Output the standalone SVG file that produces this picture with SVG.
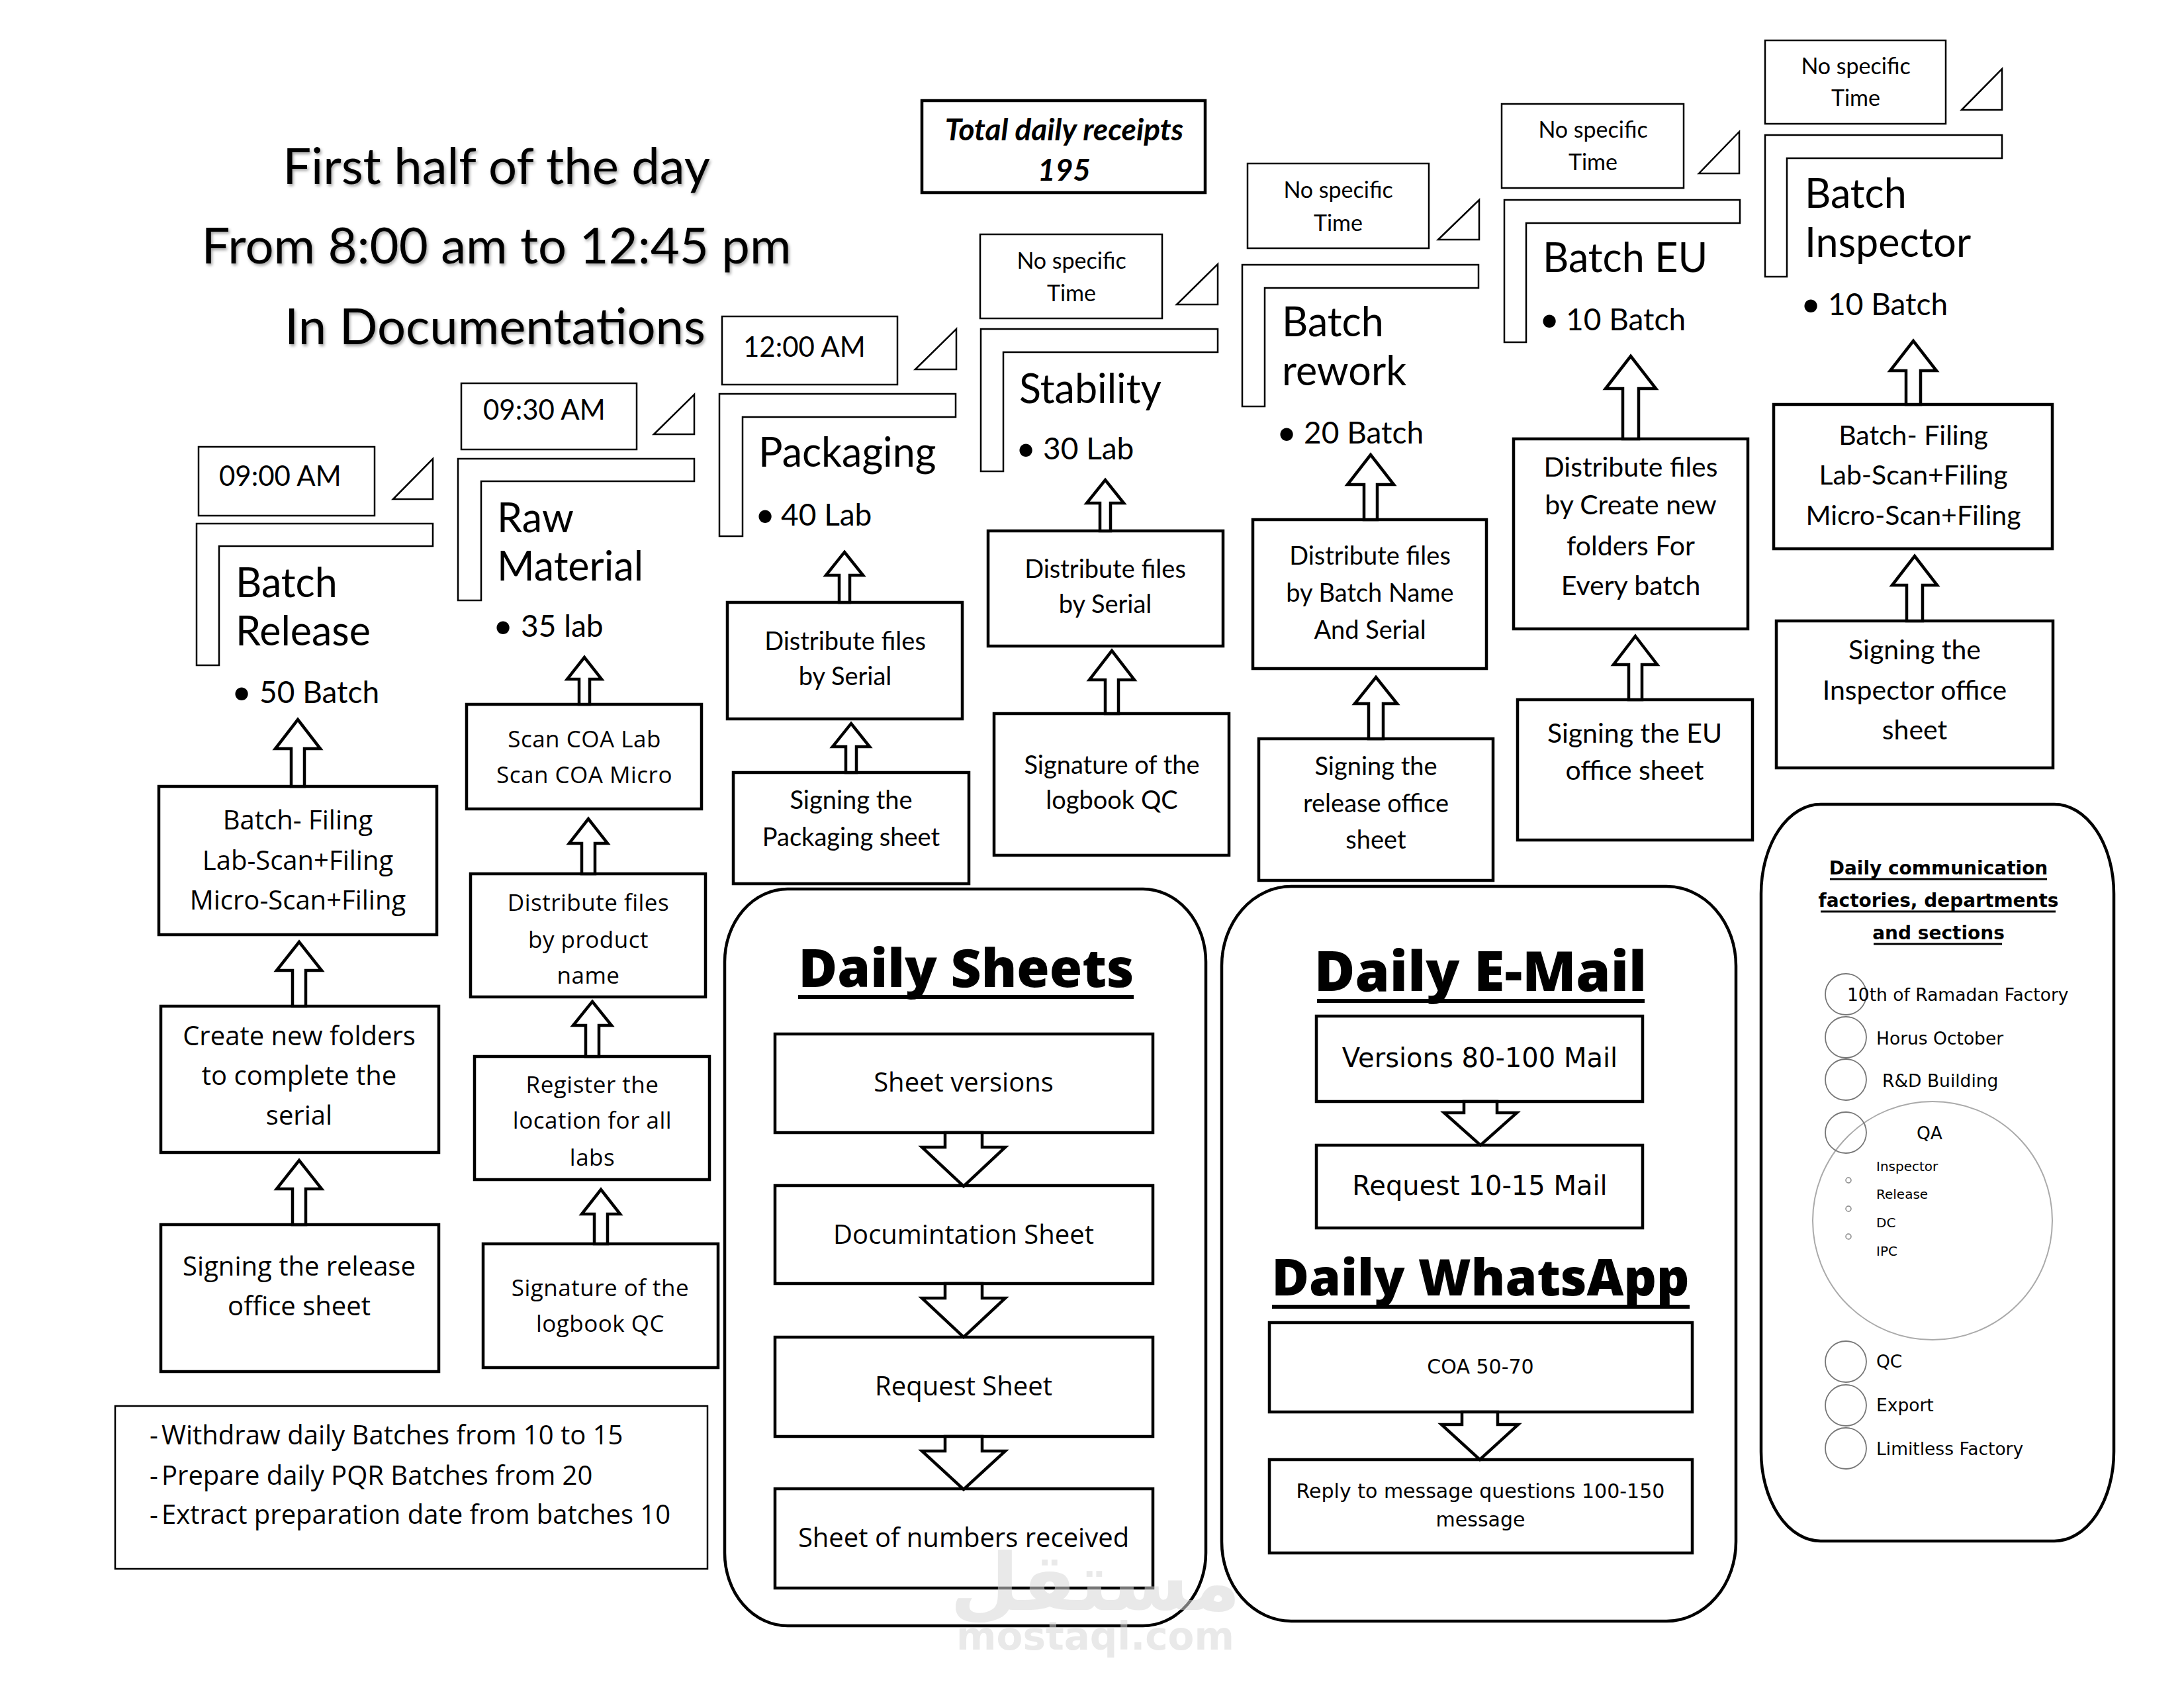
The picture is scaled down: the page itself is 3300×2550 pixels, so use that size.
<svg xmlns="http://www.w3.org/2000/svg" width="3300" height="2550" viewBox="0 0 3300 2550">
<style>
.bg{fill:#fff}
.thin{fill:#fff;stroke:#000;stroke-width:2.5}
.box{fill:#fff;stroke:#000;stroke-width:4.5}
.cont{fill:#fff;stroke:#000;stroke-width:4.5}
.arr{fill:#fff;stroke:#000;stroke-width:4.5;stroke-linejoin:miter}
.cal{font-family:Lato,"Liberation Sans",sans-serif;fill:#000}
.os{font-family:"Open Sans","Noto Sans",sans-serif;fill:#000}
.dv{font-family:"DejaVu Sans",Verdana,sans-serif;fill:#000}
.title{font-size:76px;text-anchor:middle}
.head{font-size:61px}
.bul{font-size:46px}
.dot{font-size:52px;text-anchor:middle}
.time{font-size:42px}
.ns{font-size:34px;text-anchor:middle}
.bt{font-size:38px;text-anchor:middle}
.btl{font-size:41px;text-anchor:middle}
.ob{font-size:40px;text-anchor:middle}
.ob2{font-size:35px;text-anchor:middle;letter-spacing:0.5px}
.big{font-weight:800;text-anchor:middle}
.ul{stroke:#000;stroke-width:6}
.circ{fill:none;stroke:#777;stroke-width:1.8}
</style>
<defs>
<filter id="sh" x="-5%" y="-20%" width="110%" height="140%">
<feDropShadow dx="2" dy="3" stdDeviation="2" flood-color="#000" flood-opacity="0.35"/>
</filter>
</defs>
<rect class="bg" x="0" y="0" width="3300" height="2550"/>

<g id="title" filter="url(#sh)">
<text class="cal title" x="750" y="278">First half of the day</text>
<text class="cal title" x="750" y="398">From 8:00 am to 12:45 pm</text>
<text class="cal title" x="748" y="520">In Documentations</text>
</g>

<g id="total-receipts">
<rect class="box" x="1393" y="152" width="428" height="139"/>
<text class="cal" x="1608" y="212" font-size="46" font-weight="700" font-style="italic" text-anchor="middle">Total daily receipts</text>
<text class="cal" x="1608" y="273" font-size="46" font-weight="700" font-style="italic" text-anchor="middle">195</text>
</g>

<!-- Column headers -->
<g id="batch-release">
<rect class="thin" x="300" y="675" width="266" height="104"/>
<text class="cal time" x="331" y="734">09:00 AM</text>
<path class="thin" d="M594,754 L654,693 L654,754 Z"/>
<path class="thin" d="M297,791 H654 V825 H331 V1005 H297 Z"/>
<text class="cal head" x="356" y="902">Batch</text>
<text class="cal head" x="356" y="975">Release</text>
<text class="cal dot" x="365" y="1064">•</text>
<text class="cal bul" x="392" y="1062">50 Batch</text>
</g>

<g id="raw-material">
<rect class="thin" x="697" y="579" width="265" height="100"/>
<text class="cal time" x="730" y="634">09:30 AM</text>
<path class="thin" d="M988,656 L1049,596 L1049,656 Z"/>
<path class="thin" d="M692,693 H1049 V727 H727 V907 H692 Z"/>
<text class="cal head" x="751" y="804">Raw</text>
<text class="cal head" x="751" y="877">Material</text>
<text class="cal dot" x="760" y="964">•</text>
<text class="cal bul" x="787" y="962">35 lab</text>
</g>

<g id="packaging">
<rect class="thin" x="1091" y="478" width="265" height="103"/>
<text class="cal time" x="1123" y="539">12:00 AM</text>
<path class="thin" d="M1383,558 L1445,497 L1445,558 Z"/>
<path class="thin" d="M1087,595 H1444 V630 H1122 V810 H1087 Z"/>
<text class="cal head" x="1146" y="705">Packaging</text>
<text class="cal dot" x="1156" y="796">•</text>
<text class="cal bul" x="1180" y="794">40 Lab</text>
</g>

<g id="stability">
<rect class="thin" x="1481" y="354" width="275" height="127"/>
<text class="cal ns" x="1619" y="406">No specific</text>
<text class="cal ns" x="1619" y="455">Time</text>
<path class="thin" d="M1778,460 L1840,399 L1840,460 Z"/>
<path class="thin" d="M1482,497 H1840 V532 H1516 V712 H1482 Z"/>
<text class="cal head" x="1540" y="609">Stability</text>
<text class="cal dot" x="1550" y="696">•</text>
<text class="cal bul" x="1576" y="694">30 Lab</text>
</g>

<g id="batch-rework">
<rect class="thin" x="1885" y="247" width="274" height="128"/>
<text class="cal ns" x="2022" y="299">No specific</text>
<text class="cal ns" x="2022" y="349">Time</text>
<path class="thin" d="M2173,362 L2235,302 L2235,362 Z"/>
<path class="thin" d="M1877,400 H2234 V435 H1911 V614 H1877 Z"/>
<text class="cal head" x="1937" y="508">Batch</text>
<text class="cal head" x="1937" y="582">rework</text>
<text class="cal dot" x="1944" y="672">•</text>
<text class="cal bul" x="1970" y="670">20 Batch</text>
</g>

<g id="batch-eu">
<rect class="thin" x="2269" y="157" width="275" height="127"/>
<text class="cal ns" x="2407" y="208">No specific</text>
<text class="cal ns" x="2407" y="257">Time</text>
<path class="thin" d="M2567,262 L2628,199 L2628,262 Z"/>
<path class="thin" d="M2273,302 H2629 V337 H2306 V517 H2273 Z"/>
<text class="cal head" x="2331" y="411">Batch EU</text>
<text class="cal dot" x="2341" y="501">•</text>
<text class="cal bul" x="2366" y="499">10 Batch</text>
</g>

<g id="batch-inspector">
<rect class="thin" x="2667" y="61" width="273" height="126"/>
<text class="cal ns" x="2804" y="112">No specific</text>
<text class="cal ns" x="2804" y="160">Time</text>
<path class="thin" d="M2964,166 L3025,104 L3025,166 Z"/>
<path class="thin" d="M2667,204 H3025 V239 H2700 V418 H2667 Z"/>
<text class="cal head" x="2727" y="314">Batch</text>
<text class="cal head" x="2727" y="388">Inspector</text>
<text class="cal dot" x="2736" y="478">•</text>
<text class="cal bul" x="2762" y="476">10 Batch</text>
</g>

<!-- Column 1 boxes -->
<g id="c1-filing">
<rect class="box" x="240" y="1188" width="420" height="224"/>
<text class="os ob" x="450" y="1253">Batch- Filing</text>
<text class="os ob" x="450" y="1314">Lab-Scan+Filing</text>
<text class="os ob" x="450" y="1374">Micro-Scan+Filing</text>
</g>
<g id="c1-create">
<rect class="box" x="243" y="1520" width="420" height="221"/>
<text class="os ob" x="452" y="1579">Create new folders</text>
<text class="os ob" x="452" y="1639">to complete the</text>
<text class="os ob" x="452" y="1699">serial</text>
</g>
<g id="c1-sign">
<rect class="box" x="243" y="1850" width="420" height="222"/>
<text class="os ob" x="452" y="1927">Signing the release</text>
<text class="os ob" x="452" y="1987">office sheet</text>
</g>

<!-- Column 2 boxes -->
<g id="c2-scan">
<rect class="box" x="705" y="1064" width="355" height="158"/>
<text class="os ob2" x="883" y="1129">Scan COA Lab</text>
<text class="os ob2" x="883" y="1183">Scan COA Micro</text>
</g>
<g id="c2-dist">
<rect class="box" x="711" y="1320" width="355" height="186"/>
<text class="os ob2" x="889" y="1376">Distribute files</text>
<text class="os ob2" x="889" y="1432">by product</text>
<text class="os ob2" x="889" y="1486">name</text>
</g>
<g id="c2-register">
<rect class="box" x="717" y="1596" width="355" height="186"/>
<text class="os ob2" x="895" y="1651">Register the</text>
<text class="os ob2" x="895" y="1705">location for all</text>
<text class="os ob2" x="895" y="1761">labs</text>
</g>
<g id="c2-sign">
<rect class="box" x="730" y="1879" width="355" height="187"/>
<text class="os ob2" x="907" y="1958">Signature of the</text>
<text class="os ob2" x="907" y="2012">logbook QC</text>
</g>

<!-- Column 3 boxes -->
<g id="c3-dist">
<rect class="box" x="1099" y="910" width="355" height="176"/>
<text class="cal bt" x="1277" y="982">Distribute files</text>
<text class="cal bt" x="1277" y="1035">by Serial</text>
</g>
<g id="c3-sign">
<rect class="box" x="1108" y="1167" width="356" height="168"/>
<text class="cal bt" x="1286" y="1222">Signing the</text>
<text class="cal bt" x="1286" y="1278">Packaging sheet</text>
</g>

<!-- Column 4 boxes -->
<g id="c4-dist">
<rect class="box" x="1493" y="802" width="355" height="174"/>
<text class="cal bt" x="1670" y="873">Distribute files</text>
<text class="cal bt" x="1670" y="926">by Serial</text>
</g>
<g id="c4-sign">
<rect class="box" x="1502" y="1078" width="355" height="214"/>
<text class="cal bt" x="1680" y="1169">Signature of the</text>
<text class="cal bt" x="1680" y="1222">logbook QC</text>
</g>

<!-- Column 5 boxes -->
<g id="c5-dist">
<rect class="box" x="1893" y="785" width="353" height="225"/>
<text class="cal bt" x="2070" y="853">Distribute files</text>
<text class="cal bt" x="2070" y="909">by Batch Name</text>
<text class="cal bt" x="2070" y="965">And Serial</text>
</g>
<g id="c5-sign">
<rect class="box" x="1902" y="1116" width="354" height="214"/>
<text class="cal bt" x="2079" y="1171">Signing the</text>
<text class="cal bt" x="2079" y="1227">release office</text>
<text class="cal bt" x="2079" y="1282">sheet</text>
</g>

<!-- Column 6 boxes -->
<g id="c6-dist">
<rect class="box" x="2287" y="663" width="354" height="287"/>
<text class="cal btl" x="2464" y="720">Distribute files</text>
<text class="cal btl" x="2464" y="777">by Create new</text>
<text class="cal btl" x="2464" y="839">folders For</text>
<text class="cal btl" x="2464" y="899">Every batch</text>
</g>
<g id="c6-sign">
<rect class="box" x="2293" y="1057" width="355" height="212"/>
<text class="cal btl" x="2470" y="1122">Signing the EU</text>
<text class="cal btl" x="2470" y="1178">office sheet</text>
</g>

<!-- Column 7 boxes -->
<g id="c7-filing">
<rect class="box" x="2680" y="611" width="421" height="218"/>
<text class="cal btl" x="2891" y="672">Batch- Filing</text>
<text class="cal btl" x="2891" y="732">Lab-Scan+Filing</text>
<text class="cal btl" x="2891" y="793">Micro-Scan+Filing</text>
</g>
<g id="c7-sign">
<rect class="box" x="2684" y="938" width="418" height="222"/>
<text class="cal btl" x="2893" y="996">Signing the</text>
<text class="cal btl" x="2893" y="1057">Inspector office</text>
<text class="cal btl" x="2893" y="1117">sheet</text>
</g>

<!-- Notes -->
<g id="notes">
<rect x="174" y="2124" width="895" height="246" fill="#fff" stroke="#000" stroke-width="2.5"/>
<text class="os" font-size="40" x="226" y="2182">-</text>
<text class="os" font-size="40" x="244" y="2182">Withdraw daily Batches from 10 to 15</text>
<text class="os" font-size="40" x="226" y="2243">-</text>
<text class="os" font-size="40" x="244" y="2243">Prepare daily PQR Batches from 20</text>
<text class="os" font-size="40" x="226" y="2302">-</text>
<text class="os" font-size="40" x="244" y="2302">Extract preparation date from batches 10</text>
</g>

<!-- Daily Sheets -->
<g id="daily-sheets">
<rect class="cont" x="1095" y="1343" width="727" height="1113" rx="95" ry="110"/>
<text class="os big" x="1460" y="1491" style="font-size:80px">Daily Sheets</text>
<line class="ul" x1="1206" y1="1506" x2="1713" y2="1506"/>
</g>
<g id="ds-versions">
<rect class="box" x="1171" y="1562" width="571" height="149"/>
<text class="os ob" x="1456" y="1649">Sheet versions</text>
</g>
<g id="ds-doc">
<rect class="box" x="1171" y="1791" width="571" height="148"/>
<text class="os ob" x="1456" y="1879">Documintation Sheet</text>
</g>
<g id="ds-request">
<rect class="box" x="1171" y="2020" width="571" height="150"/>
<text class="os ob" x="1456" y="2108">Request Sheet</text>
</g>
<g id="ds-numbers">
<rect class="box" x="1171" y="2249" width="571" height="150"/>
<text class="os ob" x="1456" y="2337">Sheet of numbers received</text>
</g>

<!-- Daily E-Mail / WhatsApp -->
<g id="daily-email">
<rect class="cont" x="1846" y="1339" width="777" height="1110" rx="105" ry="120"/>
<text class="os big" x="2237" y="1497" style="font-size:84px">Daily E-Mail</text>
<line class="ul" x1="1990" y1="1512" x2="2485" y2="1512"/>
<text class="os big" x="2237" y="1957" style="font-size:77px">Daily WhatsApp</text>
<line class="ul" x1="1922" y1="1974" x2="2553" y2="1974"/>
</g>
<g id="em-versions">
<rect class="box" x="1989" y="1535" width="493" height="129"/>
<text class="dv" font-size="40" x="2236" y="1612" text-anchor="middle">Versions 80-100 Mail</text>
</g>
<g id="em-request">
<rect class="box" x="1989" y="1730" width="493" height="125"/>
<text class="dv" font-size="40" x="2236" y="1805" text-anchor="middle">Request 10-15 Mail</text>
</g>
<g id="wa-coa">
<rect class="box" x="1918" y="1998" width="639" height="135"/>
<text class="dv" font-size="30" x="2237" y="2075" text-anchor="middle">COA 50-70</text>
</g>
<g id="wa-reply">
<rect class="box" x="1918" y="2205" width="639" height="141"/>
<text class="dv" font-size="30" x="2237" y="2263" text-anchor="middle">Reply to message questions 100-150</text>
<text class="dv" font-size="30" x="2237" y="2306" text-anchor="middle">message</text>
</g>

<!-- Communication -->
<g id="communication">
<rect class="cont" x="2661" y="1215" width="533" height="1113" rx="90" ry="135"/>
<text class="dv" font-size="28" font-weight="700" x="2929" y="1321" text-anchor="middle">Daily communication</text>
<text class="dv" font-size="28" font-weight="700" x="2929" y="1370" text-anchor="middle">factories, departments</text>
<text class="dv" font-size="28" font-weight="700" x="2929" y="1419" text-anchor="middle">and sections</text>
<line x1="2765" y1="1328" x2="3093" y2="1328" stroke="#000" stroke-width="3"/>
<line x1="2751" y1="1377" x2="3106" y2="1377" stroke="#000" stroke-width="3"/>
<line x1="2831" y1="1426" x2="3025" y2="1426" stroke="#000" stroke-width="3"/>
<ellipse cx="2920" cy="1844" rx="181" ry="180" fill="none" stroke="#aaa" stroke-width="2"/>
<circle class="circ" cx="2789" cy="1502" r="31"/>
<circle class="circ" cx="2789" cy="1567" r="31"/>
<circle class="circ" cx="2789" cy="1631" r="31"/>
<circle class="circ" cx="2789" cy="1711" r="31"/>
<circle class="circ" cx="2789" cy="2057" r="31"/>
<circle class="circ" cx="2789" cy="2123" r="31"/>
<circle class="circ" cx="2789" cy="2188" r="31"/>
<text class="dv" font-size="26.5" x="2791" y="1512">10th of Ramadan Factory</text>
<text class="dv" font-size="26.5" x="2835" y="1578">Horus October</text>
<text class="dv" font-size="26.5" x="2844" y="1642">R&amp;D Building</text>
<text class="dv" font-size="26.5" x="2896" y="1721">QA</text>
<circle cx="2793" cy="1783" r="4" fill="none" stroke="#888" stroke-width="1.5"/>
<circle cx="2793" cy="1826" r="4" fill="none" stroke="#888" stroke-width="1.5"/>
<circle cx="2793" cy="1868" r="4" fill="none" stroke="#888" stroke-width="1.5"/>
<text class="dv" font-size="20" x="2835" y="1769">Inspector</text>
<text class="dv" font-size="20" x="2835" y="1811">Release</text>
<text class="dv" font-size="20" x="2835" y="1854">DC</text>
<text class="dv" font-size="20" x="2835" y="1897">IPC</text>
<text class="dv" font-size="26.5" x="2835" y="2066">QC</text>
<text class="dv" font-size="26.5" x="2835" y="2132">Export</text>
<text class="dv" font-size="26.5" x="2835" y="2198">Limitless Factory</text>
</g>

<!-- Connectors -->
<g id="connectors">
<path class="arr" d="M450,1087 L484,1131 L460,1131 L460,1188 L440,1188 L440,1131 L416,1131 Z"/>
<path class="arr" d="M452,1423 L486,1466 L462,1466 L462,1520 L442,1520 L442,1466 L418,1466 Z"/>
<path class="arr" d="M452,1753 L486,1796 L462,1796 L462,1850 L442,1850 L442,1796 L418,1796 Z"/>
<path class="arr" d="M883,993 L909,1026 L891,1026 L891,1064 L875,1064 L875,1026 L857,1026 Z"/>
<path class="arr" d="M889,1237 L918,1274 L899,1274 L899,1320 L879,1320 L879,1274 L860,1274 Z"/>
<path class="arr" d="M895,1513 L924,1549 L905,1549 L905,1596 L885,1596 L885,1549 L866,1549 Z"/>
<path class="arr" d="M908,1797 L937,1834 L918,1834 L918,1879 L898,1879 L898,1834 L879,1834 Z"/>
<path class="arr" d="M1276,834 L1304,869 L1284,869 L1284,910 L1268,910 L1268,869 L1248,869 Z"/>
<path class="arr" d="M1286,1093 L1314,1128 L1294,1128 L1294,1167 L1278,1167 L1278,1128 L1258,1128 Z"/>
<path class="arr" d="M1670,725 L1698,760 L1678,760 L1678,802 L1662,802 L1662,760 L1642,760 Z"/>
<path class="arr" d="M1680,983 L1714,1027 L1690,1027 L1690,1078 L1670,1078 L1670,1027 L1646,1027 Z"/>
<path class="arr" d="M2071,687 L2106,732 L2081,732 L2081,785 L2061,785 L2061,732 L2036,732 Z"/>
<path class="arr" d="M2079,1023 L2111,1063 L2090,1063 L2090,1116 L2068,1116 L2068,1063 L2047,1063 Z"/>
<path class="arr" d="M2464,538 L2502,587 L2476,587 L2476,663 L2452,663 L2452,587 L2426,587 Z"/>
<path class="arr" d="M2471,961 L2504,1004 L2481,1004 L2481,1057 L2461,1057 L2461,1004 L2438,1004 Z"/>
<path class="arr" d="M2891,515 L2926,560 L2902,560 L2902,611 L2880,611 L2880,560 L2856,560 Z"/>
<path class="arr" d="M2893,840 L2927,884 L2905,884 L2905,938 L2881,938 L2881,884 L2859,884 Z"/>
<path class="arr" d="M1428,1711 L1428,1733 L1393,1733 L1456,1792 L1519,1733 L1484,1733 L1484,1711 Z"/>
<path class="arr" d="M1428,1939 L1428,1961 L1393,1961 L1456,2020 L1519,1961 L1484,1961 L1484,1939 Z"/>
<path class="arr" d="M1428,2170 L1428,2192 L1393,2192 L1456,2250 L1519,2192 L1484,2192 L1484,2170 Z"/>
<path class="arr" d="M2212,1664 L2212,1681 L2182,1681 L2237,1730 L2292,1681 L2262,1681 L2262,1664 Z"/>
<path class="arr" d="M2209,2133 L2209,2152 L2178,2152 L2236,2205 L2294,2152 L2263,2152 L2263,2133 Z"/>
</g>

<g id="watermark" opacity="0.55">
<text x="1655" y="2432" font-family="'DejaVu Sans',sans-serif" font-size="120" font-weight="700" fill="#d8d8d8" text-anchor="middle">مستقل</text>
<text x="1655" y="2492" font-family="'DejaVu Sans',sans-serif" font-size="58" font-weight="700" fill="#d8d8d8" text-anchor="middle">mostaql.com</text>
</g>
</svg>
